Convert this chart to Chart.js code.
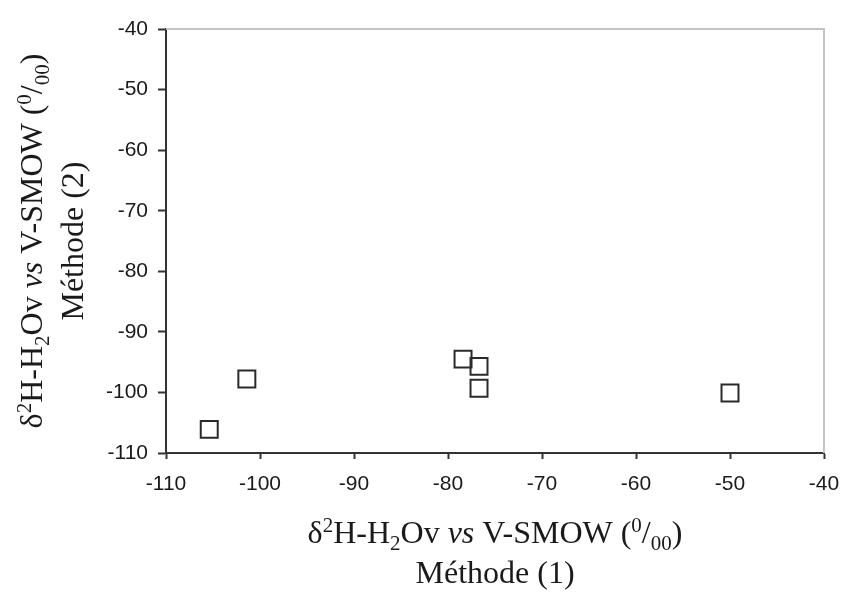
<!DOCTYPE html>
<html>
<head>
<meta charset="utf-8">
<script src="https://cdn.jsdelivr.net/npm/chart.js@4/dist/chart.umd.min.js"></script>
<style>
html,body{margin:0;padding:0;background:#fff;}
#wrap{width:842px;height:592px;}
</style>
</head>
<body>
<div id="wrap"><canvas id="c" width="842" height="592"></canvas></div>
<script>
// Data
const xValues = [-105.4, -101.4, -78.4, -76.7, -76.7, -50.0];
const yValues = [-106.1, -97.8, -94.5, -95.7, -99.3, -100.1];
const xTicks = [-110, -100, -90, -80, -70, -60, -50, -40];
const yTicks = [-110, -100, -90, -80, -70, -60, -50, -40];

// Axis title rich-text segments
const titleLine1 = [
  {t: 'δ'}, {t: '2', sup: true}, {t: 'H-H'}, {t: '2', sub: true}, {t: 'Ov '},
  {t: 'vs', italic: true}, {t: ' V-SMOW ('}, {t: '0', sup: true}, {t: '/'},
  {t: '00', sub: true}, {t: ')'}
];
const xTitleLine2 = 'Méthode (1)';
const yTitleLine2 = 'Méthode (2)';

const points = xValues.map((x, i) => ({x: x, y: yValues[i]}));

const SERIF = '"Liberation Serif", "Times New Roman", serif';
const BIG = 32, SMALL = 21;

function segFont(s) {
  return (s.italic ? 'italic ' : '') + ((s.sup || s.sub) ? SMALL : BIG) + 'px ' + SERIF;
}
function drawRich(ctx, segs, cx, baseline) {
  let total = 0;
  segs.forEach(s => { ctx.font = segFont(s); total += ctx.measureText(s.t).width; });
  let x = cx - total / 2;
  ctx.textAlign = 'left';
  ctx.textBaseline = 'alphabetic';
  segs.forEach(s => {
    ctx.font = segFont(s);
    let dy = s.sup ? -11 : (s.sub ? 7 : 0);
    ctx.fillText(s.t, x, baseline + dy);
    x += ctx.measureText(s.t).width;
  });
}
function drawPlain(ctx, text, cx, baseline) {
  ctx.font = BIG + 'px ' + SERIF;
  ctx.textAlign = 'center';
  ctx.textBaseline = 'alphabetic';
  ctx.fillText(text, cx, baseline);
}

const titlesPlugin = {
  id: 'richTitles',
  beforeDatasetsDraw(chart) {
    const ctx = chart.ctx, a = chart.chartArea;
    ctx.save();
    ctx.strokeStyle = '#c4c4c4';
    ctx.lineWidth = 2;
    ctx.beginPath();
    ctx.moveTo(a.left, a.top);
    ctx.lineTo(a.right, a.top);
    ctx.lineTo(a.right, a.bottom);
    ctx.stroke();
    ctx.restore();
  },
  afterDraw(chart) {
    const ctx = chart.ctx, a = chart.chartArea;
    ctx.save();
    ctx.fillStyle = '#1a1a1a';
    const cx = (a.left + a.right) / 2;
    drawRich(ctx, titleLine1, cx, a.bottom + 90);
    drawPlain(ctx, xTitleLine2, cx, a.bottom + 130);
    ctx.restore();

    ctx.save();
    ctx.fillStyle = '#1a1a1a';
    const cy = (a.top + a.bottom) / 2;
    ctx.translate(a.left - 124, cy);
    ctx.rotate(-Math.PI / 2);
    drawRich(ctx, titleLine1, 0, 0);
    ctx.restore();

    ctx.save();
    ctx.fillStyle = '#1a1a1a';
    ctx.translate(a.left - 83, cy);
    ctx.rotate(-Math.PI / 2);
    drawPlain(ctx, yTitleLine2, 0, 0);
    ctx.restore();
  }
};

const TICK_FONT = {family: '"Liberation Sans", Arial, sans-serif', size: 21};

new Chart(document.getElementById('c'), {
  type: 'scatter',
  data: {
    datasets: [{
      data: points,
      pointStyle: 'rect',
      pointRadius: 12,
      pointHoverRadius: 12,
      pointBorderWidth: 2,
      pointBorderColor: '#2a2a2a',
      pointBackgroundColor: 'rgba(255,255,255,0)'
    }]
  },
  options: {
    responsive: false,
    animation: false,
    events: [],
    layout: {padding: {top: 29, right: 18, left: 0, bottom: 0}},
    plugins: {legend: {display: false}, tooltip: {enabled: false}},
    scales: {
      x: {
        type: 'linear',
        min: -110, max: -40,
        afterFit(s) { s.height = 139; s.paddingLeft = 0; s.paddingRight = 0; },
        afterBuildTicks(s) { s.ticks = xTicks.map(v => ({value: v})); },
        grid: {drawOnChartArea: false, drawTicks: true, tickLength: 6, tickWidth: 2, tickColor: '#333'},
        border: {display: true, color: '#333', width: 2},
        ticks: {padding: 13, color: '#1a1a1a', font: TICK_FONT, maxRotation: 0}
      },
      y: {
        type: 'linear',
        min: -110, max: -40,
        afterFit(s) { s.width = 166; s.paddingTop = 0; s.paddingBottom = 0; },
        afterBuildTicks(s) { s.ticks = yTicks.map(v => ({value: v})); },
        grid: {drawOnChartArea: false, drawTicks: true, tickLength: 8, tickWidth: 2, tickColor: '#333'},
        border: {display: true, color: '#333', width: 2},
        ticks: {padding: 10, color: '#1a1a1a', font: TICK_FONT}
      }
    }
  },
  plugins: [titlesPlugin]
});
</script>
</body>
</html>
